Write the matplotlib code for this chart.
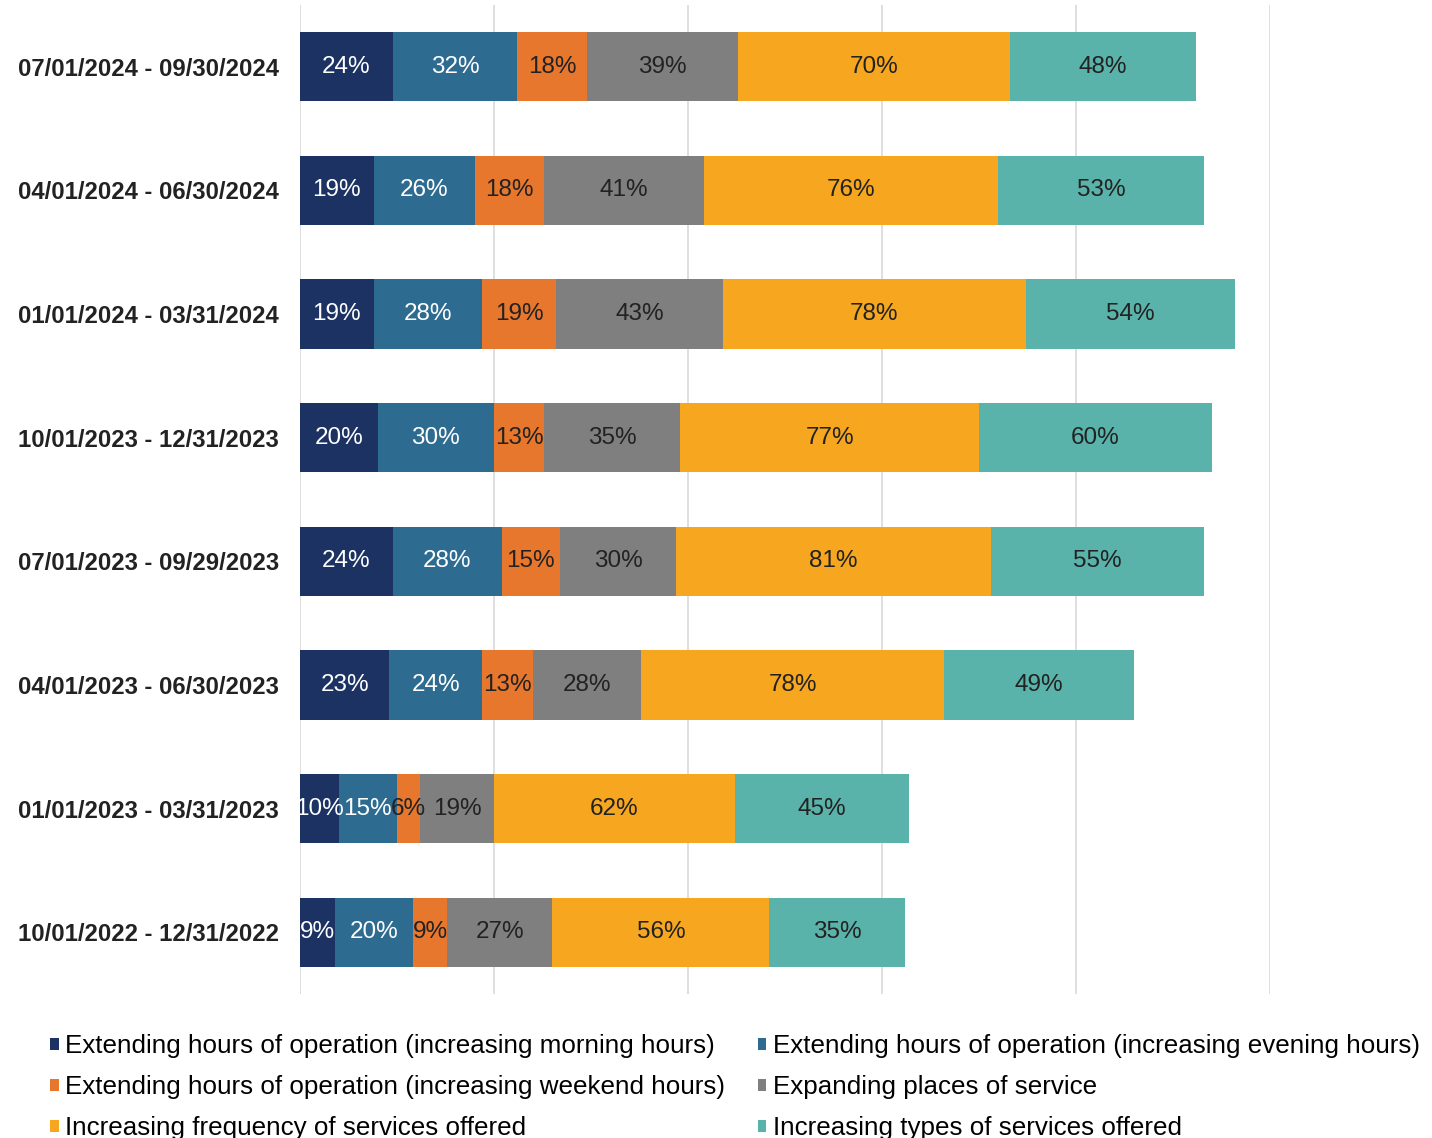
import matplotlib
matplotlib.use("Agg")
import matplotlib.pyplot as plt
from matplotlib.patches import Patch
import numpy as np

plt.rcParams['font.family'] = ['Liberation Sans', 'DejaVu Sans']

periods = [
    "07/01/2024 - 09/30/2024",
    "04/01/2024 - 06/30/2024",
    "01/01/2024 - 03/31/2024",
    "10/01/2023 - 12/31/2023",
    "07/01/2023 - 09/29/2023",
    "04/01/2023 - 06/30/2023",
    "01/01/2023 - 03/31/2023",
    "10/01/2022 - 12/31/2022",
]

series_names = [
    "Extending hours of operation (increasing morning hours)",
    "Extending hours of operation (increasing evening hours)",
    "Extending hours of operation (increasing weekend hours)",
    "Expanding places of service",
    "Increasing frequency of services offered",
    "Increasing types of services offered",
]

morning   = [24, 19, 19, 20, 24, 23, 10, 9]
evening   = [32, 26, 28, 30, 28, 24, 15, 20]
weekend   = [18, 18, 19, 13, 15, 13, 6, 9]
places    = [39, 41, 43, 35, 30, 28, 19, 27]
frequency = [70, 76, 78, 77, 81, 78, 62, 56]
types     = [48, 53, 54, 60, 55, 49, 45, 35]

series = [morning, evening, weekend, places, frequency, types]
colors = ["#1b3263", "#2d6b90", "#e8772e", "#7f7f7f", "#f6a71f", "#5ab3aa"]
text_colors = ["#ffffff", "#ffffff", "#222222", "#222222", "#222222", "#222222"]

fig = plt.figure(figsize=(14.32, 11.38), dpi=100)
W, H = 1432, 1138
ax = fig.add_axes([300 / W, 1 - 994 / H, 970 / W, (994 - 5) / H])

y = np.arange(len(periods))
left = np.zeros(len(periods))
for vals, col, tcol in zip(series, colors, text_colors):
    vals = np.array(vals, dtype=float)
    ax.barh(y, vals, left=left, height=0.56, color=col, zorder=3)
    for yi, (l, v) in enumerate(zip(left, vals)):
        ax.text(l + v / 2, yi, f"{int(v)}%", ha="center", va="center",
                fontsize=17.5, color=tcol, zorder=4)
    left += vals

ax.set_xlim(0, 250)
ax.set_ylim(len(periods) - 0.5, -0.5)
ax.set_xticks(np.arange(0, 251, 50))
ax.set_xticklabels([])
ax.tick_params(axis="x", length=0)
ax.tick_params(axis="y", length=0, pad=15)
ax.set_yticks(y)
ax.set_yticklabels(periods, fontsize=17.2, fontweight="bold", color="#222222")
ax.grid(axis="x", color="#d9d9d9", linewidth=1.2, zorder=0)
for s in ax.spines.values():
    s.set_visible(False)

handles = [Patch(facecolor=c, edgecolor="none") for c in colors]
order = [0, 2, 4, 1, 3, 5]
fig.legend([handles[i] for i in order], [series_names[i] for i in order],
           ncol=2, loc="upper left", bbox_to_anchor=(50 / W, 1 - 1034 / H),
           frameon=False, fontsize=18.7, handlelength=0.33, handleheight=0.33,
           handletextpad=0.25, columnspacing=1.25, labelspacing=0.66,
           borderaxespad=0, borderpad=0)

fig.savefig("out.png", dpi=100, facecolor="white")
